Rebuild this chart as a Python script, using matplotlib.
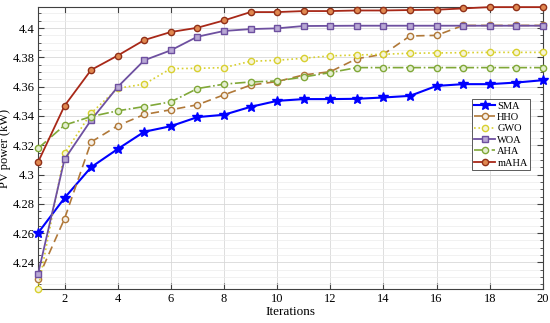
import matplotlib
matplotlib.use("Agg")
import matplotlib.pyplot as plt
from matplotlib.ticker import MultipleLocator

# data
iters = list(range(1, 21))
sma = [4.2600, 4.2840, 4.3050, 4.3174, 4.3292, 4.3330, 4.3392, 4.3408, 4.3462, 4.3503,
       4.3515, 4.3515, 4.3517, 4.3526, 4.3537, 4.3605, 4.3617, 4.3617, 4.3628, 4.3644]
hho = [4.2290, 4.2698, 4.3222, 4.3333, 4.3410, 4.3442, 4.3476, 4.3544, 4.3610, 4.3635,
       4.3680, 4.3702, 4.3791, 4.3821, 4.3946, 4.3950, 4.4018, 4.4018, 4.4018, 4.4018]
gwo = [4.2218, 4.3144, 4.3419, 4.3589, 4.3617, 4.3723, 4.3725, 4.3730, 4.3773, 4.3780,
       4.3794, 4.3810, 4.3816, 4.3821, 4.3828, 4.3830, 4.3832, 4.3834, 4.3834, 4.3834]
woa = [4.2318, 4.3104, 4.3372, 4.3598, 4.3780, 4.3848, 4.3941, 4.3980, 4.3993, 4.3998,
       4.4014, 4.4015, 4.4016, 4.4016, 4.4016, 4.4016, 4.4016, 4.4016, 4.4016, 4.4016]
aha = [4.3178, 4.3337, 4.3396, 4.3435, 4.3464, 4.3496, 4.3587, 4.3617, 4.3632, 4.3639,
       4.3666, 4.3696, 4.3730, 4.3730, 4.3730, 4.3730, 4.3730, 4.3730, 4.3730, 4.3730]
maha = [4.3083, 4.3469, 4.3714, 4.3812, 4.3918, 4.3973, 4.4002, 4.4052, 4.4109, 4.4109,
        4.4116, 4.4116, 4.4120, 4.4120, 4.4123, 4.4125, 4.4134, 4.4143, 4.4143, 4.4143]

plt.rcParams['font.family'] = ['Liberation Serif', 'DejaVu Serif']

fig = plt.figure(figsize=(5.5, 3.23), dpi=100)
ax = fig.add_axes([0.069, 0.105, 0.918, 0.873])

kw = dict(clip_on=False, zorder=3)
ax.plot(iters, sma, color='#0000ff', lw=1.5, marker='*', ms=7.5, mfc='#0000ff', mec='#0000ff', label='SMA', **kw)
ax.plot(iters, hho, color='#b07838', lw=1.2, ls=(0, (5, 3)), marker='o', ms=4.5, mfc='#f4efe6', mec='#b07838', mew=1, label='HHO', **kw)
ax.plot(iters, gwo, color='#d8d030', lw=1.2, ls=':', marker='o', ms=4.5, mfc='#f6f4d8', mec='#d8d030', mew=1, label='GWO', **kw)
ax.plot(iters, woa, color='#6e50a0', lw=1.3, marker='s', ms=4, mfc='#b8a8d4', mec='#6e50a0', mew=1, label='WOA', **kw)
ax.plot(iters, aha, color='#80a838', lw=1.2, ls='-.', marker='o', ms=4.5, mfc='#e4eed0', mec='#80a838', mew=1, label='AHA', **kw)
ax.plot(iters, maha, color='#a82818', lw=1.3, marker='o', ms=4.5, mfc='#e08850', mec='#903018', mew=1, label='mAHA', **kw)

ax.set_xlim(1, 20)
ax.set_ylim(min(gwo), max(maha))
ax.set_xticks(range(2, 21, 2))
ax.yaxis.set_major_locator(MultipleLocator(0.02))
ax.yaxis.set_minor_locator(MultipleLocator(0.005))
ax.set_yticklabels([f"{t:g}" for t in ax.get_yticks()])

ax.grid(True, which='major', color='#d8d8d8', lw=0.6)
ax.grid(True, which='minor', axis='y', color='#ececec', lw=0.5)
ax.set_axisbelow(True)
ax.tick_params(direction='in', which='both', top=True, right=True, labelsize=9, color='#404040', pad=2.5)
ax.tick_params(which='major', length=4)
ax.tick_params(which='minor', length=2)
for s in ax.spines.values():
    s.set_color('#404040')
    s.set_linewidth(0.8)

ax.set_xlabel('Iterations', fontsize=9.5, labelpad=1)
ax.set_ylabel('PV power (kW)', fontsize=9, labelpad=1)

leg = ax.legend(loc='upper right', bbox_to_anchor=(0.975, 0.675), fontsize=7.5, handlelength=2.0,
                handletextpad=0.2, borderpad=0.25, labelspacing=0.2, fancybox=False,
                framealpha=1, edgecolor='#404040', borderaxespad=0)
leg.get_frame().set_linewidth(0.6)
leg.set_zorder(5)

fig.savefig('out.png', dpi=100)
